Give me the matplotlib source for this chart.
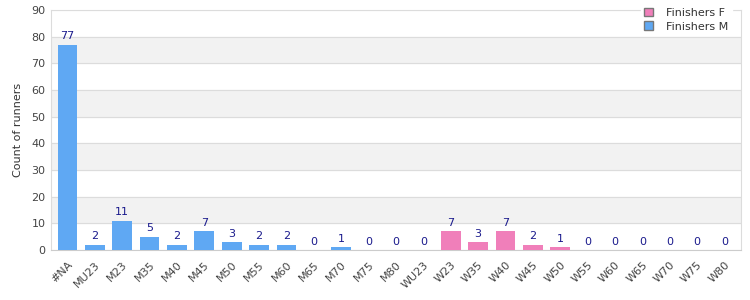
import matplotlib.pyplot as plt
import numpy as np
from matplotlib.patches import Patch

categories = ['#NA', 'MU23', 'M23', 'M35', 'M40', 'M45', 'M50', 'M55', 'M60', 'M65',
              'M70', 'M75', 'M80', 'WU23', 'W23', 'W35', 'W40', 'W45', 'W50', 'W55',
              'W60', 'W65', 'W70', 'W75', 'W80']
finishers_m = [77, 2, 11, 5, 2, 7, 3, 2, 2, 0, 1, 0, 0, 0]
finishers_f = [7, 3, 7, 2, 1, 0, 0, 0, 0, 0, 0]

blue = '#5fa8f3'
pink = '#f07fba'
label_color = '#1a1a8c'

plt.rcParams['font.family'] = ['DejaVu Sans']
fig = plt.figure(figsize=(7.5, 3), dpi=100)
ax = fig.add_axes([0.068, 0.167, 0.92, 0.8])

x = np.arange(len(categories))
xm = x[:len(finishers_m)]
xf = x[len(finishers_m):]
ax.bar(xm, finishers_m, width=0.72, color=blue, zorder=3)
ax.bar(xf, finishers_f, width=0.72, color=pink, zorder=3)

for xs, vals in ((xm, finishers_m), (xf, finishers_f)):
    for xi, v in zip(xs, vals):
        ax.text(xi, v + 1.2, str(v), ha='center', va='bottom', fontsize=8,
                color=label_color, zorder=4)

# alternating bands
for lo in range(10, 90, 20):
    ax.axhspan(lo, lo + 10, color='#f2f2f2', zorder=0)

ax.set_ylim(0, 90)
ax.set_xlim(-0.6, len(categories) - 0.4)
ax.set_yticks(range(0, 91, 10))
ax.yaxis.grid(True, color='#dcdcdc', linewidth=0.8, zorder=1)
ax.set_xticks(x)
ax.set_xticklabels(categories, rotation=45, ha='right', rotation_mode='anchor')
ax.tick_params(axis='both', length=0, labelsize=8, labelcolor='#444444', pad=4)
ax.tick_params(axis='x', pad=7)
for side in ('top', 'right', 'left'):
    ax.spines[side].set_color('#dcdcdc')
ax.spines['bottom'].set_color('#cccccc')
ax.set_ylabel('Count of runners', fontsize=8, color='#333333', labelpad=6)

handles = [Patch(facecolor=pink, edgecolor='#777777', label='Finishers F'),
           Patch(facecolor=blue, edgecolor='#777777', label='Finishers M')]
leg = ax.legend(handles=handles, loc='upper right', bbox_to_anchor=(0.995, 1.045),
                fontsize=8, frameon=True, framealpha=1, edgecolor='white',
                fancybox=False, handlelength=0.8, handleheight=0.8,
                borderpad=0.3, labelspacing=0.3, handletextpad=1.2)
leg.set_zorder(5)
for t in leg.get_texts():
    t.set_color('#333333')

fig.savefig('out.png', dpi=100)
